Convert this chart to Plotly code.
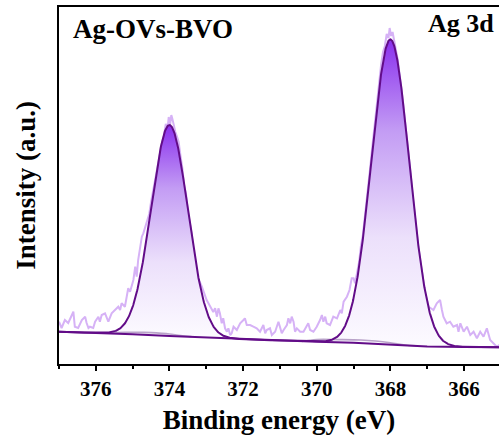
import numpy as np
import plotly.graph_objects as go

# Ag 3d XPS spectrum of Ag-OVs-BVO: raw counts (binding energy in eV, intensity in a.u.)
raw_be = [
    377.00, 376.93, 376.84, 376.75, 376.65, 376.61, 376.57, 376.48, 376.38, 376.29,
    376.25, 376.20, 376.16, 376.07, 376.02, 375.93, 375.89, 375.84, 375.75, 375.70,
    375.66, 375.57, 375.48, 375.39, 375.34, 375.30, 375.21, 375.16, 375.12, 375.07,
    374.98, 374.93, 374.89, 374.85, 374.80, 374.75, 374.71, 374.66, 374.62, 374.55,
    374.50, 374.45, 374.40, 374.35, 374.30, 374.25, 374.20, 374.15, 374.10, 374.05,
    374.02, 373.98, 373.95, 373.92, 373.88, 373.84, 373.80, 373.75, 373.70, 373.65,
    373.60, 373.55, 373.50, 373.45, 373.40, 373.35, 373.30, 373.26, 373.20, 373.12,
    373.05, 372.99, 372.90, 372.81, 372.76, 372.71, 372.67, 372.63, 372.58, 372.54,
    372.49, 372.44, 372.40, 372.35, 372.31, 372.26, 372.17, 372.08, 371.99, 371.95,
    371.90, 371.81, 371.72, 371.63, 371.54, 371.45, 371.40, 371.36, 371.27, 371.22,
    371.13, 371.04, 371.00, 370.95, 370.90, 370.81, 370.77, 370.72, 370.68, 370.63,
    370.59, 370.54, 370.45, 370.36, 370.23, 370.18, 370.09, 370.00, 369.91, 369.86,
    369.82, 369.77, 369.73, 369.64, 369.55, 369.45, 369.36, 369.32, 369.27, 369.18,
    369.11, 369.05, 369.00, 368.96, 368.90, 368.85, 368.80, 368.75, 368.70, 368.65,
    368.60, 368.55, 368.50, 368.45, 368.40, 368.35, 368.30, 368.25, 368.20, 368.15,
    368.10, 368.05, 368.02, 367.98, 367.94, 367.90, 367.85, 367.80, 367.75, 367.70,
    367.65, 367.60, 367.55, 367.50, 367.45, 367.40, 367.35, 367.30, 367.25, 367.20,
    367.15, 367.10, 367.05, 366.96, 366.90, 366.83, 366.74, 366.65, 366.60, 366.56,
    366.47, 366.38, 366.29, 366.19, 366.15, 366.10, 366.01, 365.92, 365.83, 365.74,
    365.65, 365.56, 365.47, 365.38, 365.29, 365.20, 365.11, 365.04,
]
raw_int = [
    42.3, 36.0, 44.0, 41.0, 49.0, 52.3, 37.3, 36.0, 44.0, 47.3,
    41.0, 36.0, 37.3, 36.0, 42.3, 47.3, 42.3, 49.0, 50.7, 45.7,
    42.3, 50.7, 54.0, 57.3, 54.0, 60.7, 57.3, 67.3, 75.7, 72.3,
    84.0, 97.3, 87.3, 104.0, 114.0, 127.3, 130.7, 137.3, 140.7, 150.0,
    162.0, 172.0, 182.0, 192.0, 205.0, 214.0, 222.0, 228.0, 240.0, 236.0,
    247.0, 240.0, 249.0, 245.0, 238.0, 232.0, 228.0, 222.0, 208.0, 196.0,
    178.0, 170.0, 152.0, 140.0, 131.0, 114.0, 104.0, 91.0, 84.0, 77.3,
    70.0, 64.0, 58.0, 52.0, 55.7, 47.3, 55.7, 50.7, 40.7, 45.7,
    35.7, 32.3, 35.7, 29.0, 30.7, 37.3, 34.0, 40.7, 44.0, 45.7,
    39.0, 39.0, 37.3, 35.7, 32.3, 39.0, 30.7, 34.0, 35.7, 29.0,
    32.3, 42.3, 37.3, 30.7, 34.0, 39.0, 45.7, 40.7, 47.3, 42.3,
    32.3, 35.7, 32.3, 32.3, 40.7, 34.0, 32.3, 37.3, 44.0, 49.0,
    42.3, 47.3, 40.7, 39.0, 47.3, 45.7, 54.0, 50.7, 62.3, 67.3,
    74.0, 85.7, 85.7, 80.7, 92.0, 102.0, 118.0, 128.0, 145.0, 160.0,
    180.0, 196.0, 214.0, 232.0, 250.0, 268.0, 284.0, 300.0, 312.0, 318.0,
    330.0, 326.0, 336.0, 328.0, 332.0, 322.0, 314.0, 304.0, 290.0, 278.0,
    260.0, 242.0, 226.0, 206.0, 190.0, 170.0, 152.0, 138.0, 120.0, 106.0,
    94.0, 82.0, 70.0, 57.3, 56.0, 54.0, 60.7, 64.0, 54.0, 47.3,
    40.7, 42.3, 37.3, 39.0, 32.3, 40.7, 32.3, 37.3, 29.0, 32.3,
    25.7, 32.3, 27.3, 35.7, 24.0, 20.7, 17.3, 19.0,
]

# Fitted background (eV, a.u.)
bg_be = [377.0, 376.0, 375.0, 374.0, 373.0, 372.0, 371.0, 370.0, 369.0, 368.0, 367.0, 366.0, 365.0]
bg_int = [32.3, 31.2, 29.8, 28.0, 26.4, 24.8, 23.5, 22.3, 21.2, 19.6, 17.6, 17.0, 16.7]

# Shirley-type background segments under each doublet component
sh1_be = [375.7, 375.2, 374.7, 374.2, 374.0, 373.7, 373.4]
sh1_int = [31.0, 31.6, 31.6, 30.6, 30.0, 28.5, 27.4]
sh2_be = [370.4, 370.0, 369.4, 368.8, 368.4, 368.0, 367.6, 367.3]
sh2_int = [22.6, 24.5, 24.4, 24.0, 23.0, 21.3, 19.0, 18.2]

# Peak components: Ag 3d3/2 and Ag 3d5/2
peak_names = ["Ag 3d3/2", "Ag 3d5/2"]
peak_center = [374.0, 368.0]
peak_height = [211.0, 305.0]
peak_fwhm = [1.165, 1.2]
peak_window = [(377.0, 371.0), (371.0, 365.0)]

FONT = "Liberation Serif"
FIT_COLOR = "#620c88"
RAW_COLOR = "#d6b2f6"

grid = np.linspace(377.2, 364.8, 1500)
bg_grid = np.interp(grid[::-1], bg_be[::-1], bg_int[::-1])[::-1]


def gauss(x, c, h, w):
    s = w / (2 * np.sqrt(2 * np.log(2)))
    return h * np.exp(-((x - c) ** 2) / (2 * s ** 2))


comps = [gauss(grid, c, h, w) for c, h, w in zip(peak_center, peak_height, peak_fwhm)]
envelope = bg_grid + sum(comps)

fig = go.Figure()

# raw spectrum
fig.add_trace(go.Scatter(x=raw_be, y=raw_int, mode="lines",
                         line=dict(color=RAW_COLOR, width=2), name="Raw", hoverinfo="skip"))

# gradient-filled component areas
for (hi, lo), c, h, name in zip(peak_window, peak_center, peak_height, peak_names):
    m = (grid <= hi) & (grid >= lo)
    xs = np.concatenate([grid[m], grid[m][::-1]])
    ys = np.concatenate([envelope[m], bg_grid[m][::-1]])
    base = float(np.interp(c, bg_be[::-1], bg_int[::-1]))
    fig.add_trace(go.Scatter(
        x=xs, y=ys, mode="lines", fill="toself", line=dict(width=0),
        fillgradient=dict(type="vertical", start=base, stop=base + h,
                          colorscale=[[0.0, "#fcfaff"], [0.35, "#ece0fb"],
                                      [0.7, "#c39cf4"], [1.0, "#8a30ee"]]),
        name=name, hoverinfo="skip"))

# Shirley segments
for xb, yb in [(sh1_be, sh1_int), (sh2_be, sh2_int)]:
    fig.add_trace(go.Scatter(x=xb, y=yb, mode="lines", line=dict(color="#b9a3c9", width=1.6),
                             line_shape="spline", hoverinfo="skip", name="Shirley"))

# background and envelope
fig.add_trace(go.Scatter(x=bg_be, y=bg_int, mode="lines", line=dict(color=FIT_COLOR, width=2),
                         name="Background", hoverinfo="skip"))
fig.add_trace(go.Scatter(x=grid, y=envelope, mode="lines", line=dict(color=FIT_COLOR, width=2),
                         name="Fit"))

fig.add_annotation(x=0.027, y=0.985, xref="paper", yref="paper", text="<b>Ag-OVs-BVO</b>",
                   showarrow=False, xanchor="left", yanchor="top",
                   font=dict(family=FONT, size=27, color="black"))
fig.add_annotation(x=0.993, y=1.0, xref="paper", yref="paper", text="<b>Ag 3d</b>",
                   showarrow=False, xanchor="right", yanchor="top",
                   font=dict(family=FONT, size=26, color="black"))

fig.update_layout(
    width=499, height=443,
    margin=dict(l=59, r=0, t=7, b=79),
    paper_bgcolor="white", plot_bgcolor="white",
    showlegend=False,
    font=dict(family=FONT, color="black"),
    xaxis=dict(
        range=[377.0, 365.05], autorange=False,
        tickvals=[376, 374, 372, 370, 368, 366],
        ticktext=["<b>376</b>", "<b>374</b>", "<b>372</b>", "<b>370</b>", "<b>368</b>", "<b>366</b>"],
        ticks="outside", ticklen=5, tickwidth=1.5, tickcolor="black",
        minor=dict(tickvals=[377, 375, 373, 371, 369, 367, 365], ticks="outside",
                   ticklen=3, tickwidth=1.5, tickcolor="black"),
        tickfont=dict(family=FONT, size=21, color="black"),
        showline=True, linecolor="black", linewidth=1.8, mirror=True,
        showgrid=False, zeroline=False,
        title=dict(text="<b>Binding energy (eV)</b>", font=dict(family=FONT, size=27), standoff=10),
    ),
    yaxis=dict(
        range=[0, 357], autorange=False,
        showticklabels=False, ticks="",
        showline=True, linecolor="black", linewidth=1.8,
        showgrid=False, zeroline=False,
        title=dict(text="<b>Intensity (a.u.)</b>", font=dict(family=FONT, size=27), standoff=14),
    ),
)

fig.write_html("out.html")
